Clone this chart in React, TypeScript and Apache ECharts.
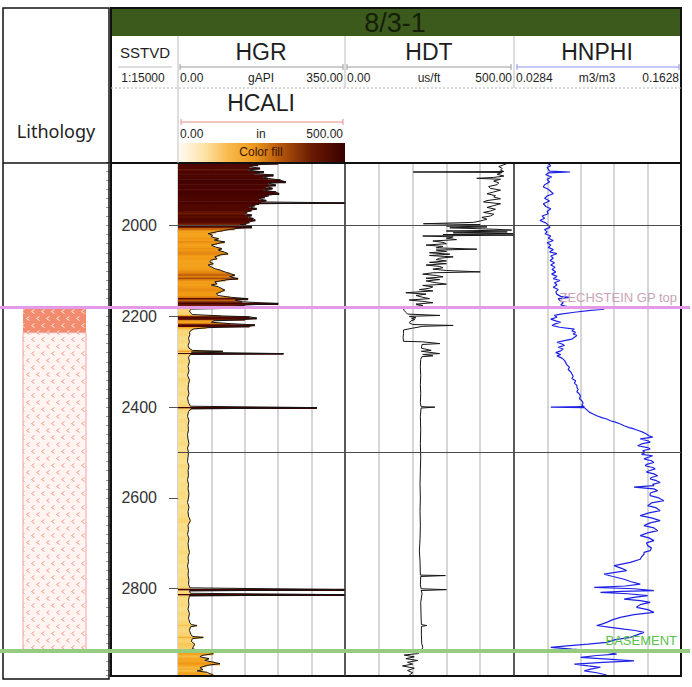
import React, { useEffect, useRef } from "react";
import * as echarts from "echarts";

// ---------- data ----------
const WELL_NAME = "8/3-1";
const DEPTH_RANGE: [number, number] = [1860, 2990];
const DEPTH_LABEL_STEP = 200;
const DEPTH_TICK_STEP = 20;
const GRID_DEPTHS = [2000, 2500];

const FORMATION_NAMES = ["ZECHSTEIN GP top", "BASEMENT"];
const FORMATION_DEPTHS = [2181, 2937];

const LITHO_TOPS = [2181, 2236];
const LITHO_BASES = [2236, 2937];
const LITHO_KINDS = ["dense", "light"];

const HGR_SCALE: [number, number] = [0, 350];
const HDT_SCALE: [number, number] = [0, 500];
const HNPHI_SCALE: [number, number] = [0.0284, 0.1628];
const HCALI_SCALE: [number, number] = [0, 500];

// [depth, gAPI]
const HGR: [number, number][] = [
  [1860, 185], [1863, 210], [1866, 168], [1870, 150], [1874, 172], [1878, 147], [1882, 180], [1885, 161],
  [1889, 200], [1893, 178], [1896, 189], [1900, 215], [1904, 226], [1907, 190], [1911, 205], [1914, 185],
  [1918, 198], [1922, 180], [1926, 205], [1930, 212], [1933, 190], [1937, 182], [1941, 170], [1945, 185],
  [1948, 175], [1950, 350], [1952, 170], [1955, 161], [1959, 150], [1963, 165], [1966, 154], [1970, 145],
  [1974, 140], [1977, 155], [1981, 147], [1985, 158], [1988, 162], [1992, 150], [1996, 143], [1999, 130],
  [2003, 155], [2007, 119], [2011, 95], [2014, 80], [2018, 63], [2021, 72], [2025, 70], [2029, 85],
  [2032, 76], [2036, 98], [2040, 82], [2043, 70], [2047, 78], [2051, 92], [2054, 84], [2058, 96],
  [2062, 105], [2065, 88], [2069, 77], [2073, 82], [2076, 70], [2080, 66], [2084, 74], [2087, 63],
  [2091, 70], [2095, 77], [2098, 88], [2102, 98], [2106, 110], [2109, 119], [2113, 108], [2117, 126],
  [2120, 100], [2124, 77], [2128, 82], [2131, 70], [2135, 85], [2139, 92], [2142, 98], [2146, 90],
  [2150, 80], [2154, 84], [2158, 110], [2161, 147], [2165, 120], [2168, 135], [2172, 210], [2175, 140],
  [2179, 110], [2181, 186], [2184, 28], [2188, 24], [2192, 26], [2196, 30], [2199, 90], [2201, 150],
  [2204, 165], [2207, 140], [2210, 75], [2213, 70], [2216, 110], [2219, 161], [2222, 150], [2225, 60],
  [2228, 32], [2232, 26], [2236, 24], [2240, 25], [2248, 22], [2256, 24], [2264, 21], [2270, 23],
  [2275, 30], [2277, 94], [2279, 28], [2282, 221], [2284, 26], [2290, 22], [2300, 24], [2310, 21],
  [2320, 23], [2330, 20], [2340, 24], [2350, 22], [2360, 21], [2370, 23], [2380, 20], [2390, 22],
  [2398, 26], [2401, 291], [2404, 27], [2410, 22], [2420, 20], [2430, 23], [2440, 21], [2450, 22],
  [2460, 20], [2470, 21], [2480, 23], [2490, 20], [2500, 22], [2510, 21], [2520, 20], [2530, 23],
  [2540, 21], [2550, 22], [2560, 20], [2570, 22], [2580, 21], [2590, 23], [2600, 22], [2610, 20],
  [2620, 23], [2630, 21], [2640, 22], [2650, 26], [2660, 21], [2670, 22], [2680, 20], [2690, 23],
  [2700, 21], [2710, 22], [2720, 24], [2730, 21], [2740, 22], [2750, 20], [2760, 22], [2770, 21],
  [2780, 23], [2790, 22], [2798, 25], [2802, 350], [2805, 24], [2810, 26], [2813, 350], [2816, 24],
  [2825, 22], [2835, 23], [2845, 21], [2855, 24], [2865, 22], [2875, 25], [2879, 28], [2881, 40],
  [2884, 26], [2892, 24], [2900, 27], [2905, 30], [2907, 53], [2910, 30], [2916, 28], [2922, 35],
  [2928, 32], [2932, 30], [2936, 45], [2940, 70], [2943, 74], [2947, 50], [2950, 46], [2954, 65],
  [2958, 56], [2962, 75], [2965, 88], [2969, 60], [2974, 46], [2978, 52], [2981, 40], [2984, 60],
  [2990, 74],
];

// [depth, us/ft]
const HDT: [number, number][] = [
  [1860, 490], [1866, 470], [1870, 455], [1874, 465], [1878, 460], [1881, 470], [1882, 202], [1883, 465],
  [1887, 450], [1891, 470], [1894, 440], [1896, 390], [1898, 460], [1902, 440], [1906, 455], [1910, 450],
  [1914, 425], [1918, 430], [1922, 460], [1926, 440], [1930, 420], [1934, 445], [1937, 440], [1941, 460],
  [1945, 420], [1948, 410], [1952, 460], [1956, 440], [1960, 420], [1964, 445], [1968, 430], [1971, 410],
  [1975, 440], [1979, 430], [1982, 405], [1986, 420], [1990, 400], [1993, 380], [1996, 232], [1998, 400],
  [2001, 300], [2003, 420], [2005, 310], [2008, 440], [2010, 493], [2012, 300], [2014, 480], [2016, 320],
  [2018, 497], [2020, 290], [2021, 500], [2023, 230], [2025, 320], [2028, 300], [2031, 330], [2034, 260],
  [2037, 290], [2040, 300], [2043, 240], [2046, 290], [2049, 270], [2052, 390], [2054, 270], [2057, 300],
  [2060, 250], [2063, 310], [2066, 250], [2069, 320], [2072, 280], [2075, 270], [2078, 300], [2081, 250],
  [2084, 300], [2087, 240], [2090, 280], [2093, 290], [2096, 260], [2099, 300], [2102, 400], [2104, 260],
  [2107, 230], [2110, 270], [2113, 290], [2116, 240], [2119, 280], [2122, 240], [2126, 270], [2129, 300],
  [2132, 230], [2135, 260], [2138, 250], [2141, 220], [2144, 260], [2148, 180], [2151, 240], [2154, 210],
  [2158, 230], [2161, 250], [2164, 190], [2167, 230], [2170, 260], [2173, 210], [2176, 230], [2179, 200],
  [2183, 173], [2187, 175], [2191, 180], [2195, 185], [2198, 281], [2200, 190], [2203, 210], [2205, 197],
  [2207, 207], [2210, 195], [2214, 190], [2218, 200], [2220, 320], [2222, 230], [2226, 200], [2230, 173],
  [2238, 173], [2246, 172], [2255, 173], [2256, 227], [2260, 281], [2262, 228], [2270, 226], [2275, 255],
  [2277, 226], [2282, 280], [2284, 230], [2287, 260], [2289, 227], [2295, 224], [2310, 223], [2330, 224],
  [2350, 223], [2370, 224], [2390, 223], [2399, 225], [2400, 266], [2402, 225], [2420, 223], [2450, 224],
  [2480, 223], [2510, 224], [2540, 223], [2570, 222], [2600, 223], [2630, 222], [2660, 223], [2690, 222],
  [2717, 220], [2740, 222], [2770, 223], [2771, 297], [2773, 224], [2790, 223], [2800, 225], [2802, 300],
  [2804, 225], [2810, 228], [2830, 224], [2860, 225], [2879, 226], [2881, 242], [2883, 226], [2900, 226],
  [2920, 227], [2930, 230], [2935, 226], [2940, 222], [2943, 215], [2946, 175], [2950, 205], [2954, 180],
  [2958, 215], [2962, 185], [2966, 200], [2970, 170], [2975, 205], [2980, 185], [2985, 200], [2990, 190],
];

// [depth, m3/m3]
const HNPHI: [number, number][] = [
  [1860, 0.0574], [1864, 0.056], [1868, 0.058], [1872, 0.055], [1880, 0.057], [1882, 0.0735], [1884, 0.056],
  [1888, 0.054], [1893, 0.0587], [1898, 0.055], [1904, 0.057], [1910, 0.053], [1915, 0.052], [1920, 0.056],
  [1925, 0.058], [1930, 0.060], [1935, 0.055], [1940, 0.053], [1946, 0.057], [1952, 0.052], [1958, 0.054],
  [1963, 0.058], [1969, 0.055], [1974, 0.056], [1979, 0.051], [1984, 0.053], [1989, 0.0493], [1994, 0.054],
  [1999, 0.056], [2004, 0.0574], [2009, 0.053], [2014, 0.055], [2018, 0.0534], [2023, 0.058], [2028, 0.056],
  [2033, 0.060], [2038, 0.055], [2043, 0.058], [2048, 0.056], [2053, 0.060], [2058, 0.057], [2062, 0.0628],
  [2067, 0.058], [2072, 0.060], [2077, 0.0574], [2082, 0.061], [2087, 0.058], [2092, 0.0614], [2097, 0.059],
  [2102, 0.062], [2107, 0.0587], [2112, 0.063], [2117, 0.060], [2121, 0.0654], [2126, 0.061], [2131, 0.063],
  [2136, 0.060], [2141, 0.064], [2146, 0.062], [2151, 0.0628], [2156, 0.066], [2158, 0.0735], [2161, 0.064],
  [2165, 0.0654], [2170, 0.068], [2175, 0.066], [2180, 0.074], [2184, 0.101], [2187, 0.090], [2191, 0.077],
  [2195, 0.066], [2198, 0.061], [2202, 0.063], [2206, 0.058], [2210, 0.062], [2213, 0.066], [2217, 0.061],
  [2220, 0.059], [2224, 0.065], [2228, 0.077], [2232, 0.075], [2235, 0.078], [2239, 0.076], [2242, 0.079],
  [2246, 0.077], [2250, 0.075], [2254, 0.068], [2257, 0.063], [2261, 0.067], [2264, 0.069], [2268, 0.064],
  [2272, 0.068], [2276, 0.066], [2280, 0.062], [2284, 0.066], [2287, 0.063], [2292, 0.067], [2297, 0.069],
  [2302, 0.070], [2307, 0.071], [2312, 0.073], [2317, 0.072], [2322, 0.074], [2327, 0.075], [2332, 0.076],
  [2337, 0.075], [2342, 0.078], [2347, 0.077], [2352, 0.079], [2356, 0.079], [2361, 0.080], [2366, 0.079],
  [2371, 0.081], [2376, 0.082], [2381, 0.081], [2386, 0.083], [2391, 0.084], [2396, 0.083], [2399, 0.085],
  [2400, 0.058], [2401, 0.085], [2406, 0.087], [2411, 0.089], [2415, 0.092], [2419, 0.095], [2423, 0.099],
  [2426, 0.103], [2430, 0.106], [2433, 0.110], [2437, 0.114], [2441, 0.117], [2445, 0.121], [2448, 0.125],
  [2452, 0.129], [2455, 0.132], [2459, 0.135], [2463, 0.137], [2466, 0.140], [2470, 0.130], [2474, 0.136],
  [2477, 0.138], [2481, 0.131], [2485, 0.128], [2489, 0.136], [2492, 0.138], [2496, 0.132], [2500, 0.134],
  [2504, 0.131], [2507, 0.140], [2511, 0.136], [2514, 0.133], [2518, 0.139], [2522, 0.141], [2526, 0.135],
  [2529, 0.134], [2533, 0.140], [2536, 0.142], [2540, 0.137], [2543, 0.135], [2547, 0.141], [2551, 0.144],
  [2555, 0.139], [2558, 0.138], [2562, 0.143], [2566, 0.146], [2570, 0.140], [2573, 0.141], [2576, 0.125],
  [2580, 0.141], [2584, 0.144], [2589, 0.138], [2595, 0.138], [2600, 0.145], [2606, 0.149], [2611, 0.139],
  [2617, 0.136], [2622, 0.143], [2628, 0.146], [2633, 0.137], [2639, 0.130], [2644, 0.139], [2650, 0.146],
  [2655, 0.138], [2661, 0.133], [2666, 0.141], [2672, 0.144], [2677, 0.136], [2683, 0.130], [2688, 0.137],
  [2694, 0.141], [2699, 0.135], [2705, 0.136], [2710, 0.139], [2716, 0.138], [2720, 0.133], [2724, 0.133],
  [2730, 0.131], [2735, 0.130], [2742, 0.122], [2749, 0.109], [2755, 0.115], [2760, 0.119], [2764, 0.110],
  [2768, 0.101], [2773, 0.108], [2779, 0.117], [2784, 0.122], [2790, 0.130], [2794, 0.118], [2797, 0.093],
  [2800, 0.125], [2804, 0.141], [2806, 0.115], [2808, 0.098], [2811, 0.120], [2815, 0.136], [2819, 0.125],
  [2823, 0.117], [2826, 0.130], [2830, 0.138], [2835, 0.130], [2841, 0.127], [2846, 0.136], [2852, 0.141],
  [2857, 0.125], [2863, 0.114], [2868, 0.108], [2874, 0.103], [2878, 0.099], [2881, 0.095], [2885, 0.106],
  [2889, 0.117], [2892, 0.126], [2896, 0.133], [2901, 0.128], [2907, 0.122], [2912, 0.110], [2918, 0.103],
  [2922, 0.088], [2926, 0.071], [2929, 0.058], [2933, 0.075], [2937, 0.095], [2940, 0.104], [2944, 0.111],
  [2947, 0.095], [2951, 0.082], [2955, 0.104], [2959, 0.125], [2962, 0.100], [2966, 0.077], [2970, 0.088],
  [2973, 0.098], [2977, 0.090], [2981, 0.085], [2985, 0.095], [2990, 0.103],
];

// ---------- styles ----------
const FONT = "'Liberation Sans', Arial, sans-serif";
const GR_FILL_STOPS: [number, string][] = [
  [0, "#fffbea"], [15, "#fde9a6"], [25, "#f9d677"], [40, "#f7c04c"], [55, "#f5a826"], [80, "#f39d16"],
  [105, "#e38612"], [120, "#c0600a"], [135, "#7a2404"], [150, "#520800"], [230, "#420000"],
];
const FORMATION_LINE_COLORS = ["#e59ae7", "#95cc80"];
const FORMATION_TEXT_COLORS = ["#c9a3b8", "#58c24a"];

function hexToRgb(h: string) {
  const n = parseInt(h.slice(1), 16);
  return [(n >> 16) & 255, (n >> 8) & 255, n & 255];
}
function grColor(v: number) {
  const s = GR_FILL_STOPS;
  if (v <= s[0][0]) return s[0][1];
  for (let i = 1; i < s.length; i++) {
    if (v <= s[i][0]) {
      const t = (v - s[i - 1][0]) / (s[i][0] - s[i - 1][0]);
      const a = hexToRgb(s[i - 1][1]);
      const b = hexToRgb(s[i][1]);
      const c = a.map((x, k) => Math.round(x + (b[k] - x) * t));
      return `rgb(${c[0]},${c[1]},${c[2]})`;
    }
  }
  return s[s.length - 1][1];
}

function makePattern(bg: string, fg: string) {
  const c = document.createElement("canvas");
  c.width = 10;
  c.height = 14;
  const ctx = c.getContext("2d")!;
  ctx.fillStyle = bg;
  ctx.fillRect(0, 0, 10, 14);
  ctx.strokeStyle = fg;
  ctx.lineWidth = 1;
  const chev = (x: number, y: number) => {
    ctx.beginPath();
    ctx.moveTo(x + 3, y);
    ctx.lineTo(x, y + 2);
    ctx.lineTo(x + 3, y + 4);
    ctx.stroke();
  };
  chev(1.5, 1.5);
  chev(6.5, 8.5);
  return { image: c, repeat: "repeat", imageWidth: 10, imageHeight: 14 };
}

export default function App() {
  const ref = useRef<HTMLDivElement>(null);
  useEffect(() => {
    document.body.style.margin = "0";
    if (!ref.current) return;
    const chart = echarts.init(ref.current, undefined, { renderer: "svg" });

    const gTop = 162;
    const gH = 513;
    const gridBase = { top: gTop, height: gH, outerBoundsMode: "none", containLabel: false };
    const depthY = (extra: any) => ({
      type: "value", inverse: true, min: DEPTH_RANGE[0], max: DEPTH_RANGE[1],
      splitLine: { show: false }, ...extra,
    });
    const gridX = (gridIndex: number) => ({
      gridIndex, type: "value", min: 0, max: 5, interval: 1, position: "top",
      axisLine: { show: false }, axisTick: { show: false }, axisLabel: { show: false },
      splitLine: { show: true, lineStyle: { color: "#c8c8c8", width: 1.5 } },
    });
    const gridLineSeries = (xi: number, yi: number) => ({
      type: "line", xAxisIndex: xi, yAxisIndex: yi, data: [], z: 1, silent: true,
      markLine: {
        silent: true, symbol: ["none", "none"], label: { show: false },
        lineStyle: { color: "#4a4a4a", width: 1, type: "solid" },
        data: GRID_DEPTHS.map((d) => ({ yAxis: d })),
      },
    });

    const patterns: any = {
      dense: makePattern("#f38b6e", "#ffe8e0"),
      light: makePattern("#fff4f1", "#f2a18f"),
    };

    const grFill = HGR.map((p, i) => {
      const prev = i > 0 ? HGR[i - 1][0] : p[0];
      const next = i < HGR.length - 1 ? HGR[i + 1][0] : p[0];
      return [p[1], (prev + p[0]) / 2, (p[0] + next) / 2];
    });

    const T = (text: string, x: number, y: number, size: number, o: any = {}) => ({
      type: "text", x, y, z: 20, silent: true,
      style: {
        text, fontSize: size, fontFamily: o.family || FONT, fill: o.fill || "#1e1e1e",
        textAlign: o.align || "center", textVerticalAlign: "middle",
      },
    });
    const L = (x1: number, y1: number, x2: number, y2: number, color: string, w: number, dash?: number[], z = 20) => ({
      type: "line", z, silent: true, shape: { x1, y1, x2, y2 },
      style: { stroke: color, lineWidth: w, lineDash: dash },
    });
    const R = (x: number, y: number, w: number, h: number, style: any, z = 20) => ({
      type: "rect", z, silent: true, shape: { x, y, width: w, height: h }, style,
    });
    const scale = (x1: number, x2: number, y: number, color: string) => [
      L(x1, y, x2, y, color, 1), L(x1, y - 3, x1, y + 3, color, 1), L(x2, y - 3, x2, y + 3, color, 1),
    ];
    const f2 = (v: number) => v.toFixed(2);

    const graphic: any[] = [
      R(3, 8, 106, 671, { fill: "none", stroke: "#111", lineWidth: 1.5 }, 5),
      L(3, 163, 109, 163, "#111", 1.5, undefined, 5),
      T("Lithology", 56, 131, 18, { family: "'Noto Sans', sans-serif", fill: "#222" }),
      R(111, 9, 570, 27, { fill: "#3b5a1c" }, 4),
      T(WELL_NAME, 395, 23, 27, { fill: "#142008" }),
      R(111, 8, 570, 668, { fill: "none", stroke: "#111", lineWidth: 2 }, 5),
      L(178, 36, 178, 163, "#bdbdbd", 1),
      L(345, 36, 345, 88, "#bdbdbd", 1),
      L(514, 36, 514, 88, "#bdbdbd", 1),
      L(111, 88, 681, 88, "#b4b4b4", 1, [2, 2]),
      L(111, 163, 681, 163, "#111", 2, undefined, 6),
      L(345, 163, 345, 676, "#333", 1.5, undefined, 5),
      L(514, 163, 514, 676, "#333", 1.5, undefined, 5),
      // SSTVD
      T("SSTVD", 145, 52, 15),
      L(118, 67, 172, 67, "#bbbbbb", 1),
      T("1:15000", 143, 78, 12),
      // HGR
      T("HGR", 261, 52, 23),
      ...scale(180, 343, 67, "#9a9a9a"),
      T(f2(HGR_SCALE[0]), 180, 78, 12, { align: "left" }),
      T("gAPI", 261, 78, 12),
      T(f2(HGR_SCALE[1]), 343, 78, 12, { align: "right" }),
      // HDT
      T("HDT", 429, 52, 23),
      ...scale(347, 511, 67, "#9a9a9a"),
      T(f2(HDT_SCALE[0]), 347, 78, 12, { align: "left" }),
      T("us/ft", 429, 78, 12),
      T(f2(HDT_SCALE[1]), 512, 78, 12, { align: "right" }),
      // HNPHI
      T("HNPHI", 597, 52, 23),
      ...scale(517, 679, 67, "#8c90f0"),
      T(String(HNPHI_SCALE[0]), 516, 78, 12, { align: "left" }),
      T("m3/m3", 597, 78, 12),
      T(String(HNPHI_SCALE[1]), 679, 78, 12, { align: "right" }),
      // HCALI
      T("HCALI", 261, 103, 23),
      ...scale(181, 343, 122, "#f08a8a"),
      T(f2(HCALI_SCALE[0]), 180, 134, 12, { align: "left" }),
      T("in", 261, 134, 12),
      T(f2(HCALI_SCALE[1]), 343, 134, 12, { align: "right" }),
      R(179, 143, 166, 19, {
        fill: {
          type: "linear", x: 0, y: 0, x2: 1, y2: 0,
          colorStops: [
            { offset: 0, color: "#fffaf0" }, { offset: 0.15, color: "#fde3a8" },
            { offset: 0.3, color: "#f8b84a" }, { offset: 0.45, color: "#ee9a1e" },
            { offset: 0.6, color: "#b85a0c" }, { offset: 0.8, color: "#6a1a02" },
            { offset: 1, color: "#3a0000" },
          ],
        },
      }),
      T("Color fill", 261, 152, 12, { fill: "#3a1400" }),
    ];

    const option: any = {
      animation: false,
      backgroundColor: "#ffffff",
      grid: [
        { ...gridBase, left: 111, width: 67 },
        { ...gridBase, left: 178, width: 167 },
        { ...gridBase, left: 345, width: 169 },
        { ...gridBase, left: 514, width: 167 },
        { ...gridBase, left: 23, width: 63 },
        { ...gridBase, left: 0, width: 690 },
      ],
      xAxis: [
        { gridIndex: 0, type: "value", min: 0, max: 1, show: false },
        { gridIndex: 1, type: "value", min: HGR_SCALE[0], max: HGR_SCALE[1], show: false },
        gridX(1),
        { gridIndex: 2, type: "value", min: HDT_SCALE[0], max: HDT_SCALE[1], show: false },
        gridX(2),
        { gridIndex: 3, type: "value", min: HNPHI_SCALE[0], max: HNPHI_SCALE[1], show: false },
        gridX(3),
        { gridIndex: 4, type: "value", min: 0, max: 1, show: false },
        { gridIndex: 5, type: "value", min: 0, max: 1, show: false },
      ],
      yAxis: [
        depthY({
          gridIndex: 0, position: "right", interval: DEPTH_TICK_STEP,
          axisLine: { show: false },
          axisTick: { show: true, inside: true, length: 5, lineStyle: { color: "#8a9ab8" } },
          axisLabel: {
            show: true, inside: true, margin: 21, fontSize: 16, color: "#333", fontFamily: FONT,
            formatter: (v: number) => (v % DEPTH_LABEL_STEP === 0 ? String(v) : ""),
          },
        }),
        depthY({
          gridIndex: 0, position: "right", offset: 0,
          axisLine: { show: false },
          axisTick: { show: true, inside: true, length: 9, lineStyle: { color: "#555" } },
          axisLabel: { show: false },
        }),
        depthY({ gridIndex: 1, show: false }),
        depthY({ gridIndex: 2, show: false }),
        depthY({ gridIndex: 3, show: false }),
        depthY({ gridIndex: 4, show: false }),
        depthY({ gridIndex: 5, show: false }),
      ],
      graphic,
      series: [
        gridLineSeries(1, 2),
        gridLineSeries(3, 3),
        gridLineSeries(5, 4),
        {
          type: "custom", name: "HGR fill", xAxisIndex: 1, yAxisIndex: 2, z: 2, clip: true, silent: true,
          data: grFill,
          encode: { x: 0, y: [1, 2] },
          renderItem: (_p: any, api: any) => {
            const v = api.value(0);
            const a = api.coord([HGR_SCALE[0], api.value(1)]);
            const b = api.coord([Math.min(v, HGR_SCALE[1]), api.value(2)]);
            return {
              type: "rect",
              shape: { x: a[0], y: a[1], width: Math.max(0, b[0] - a[0]), height: b[1] - a[1] + 0.6 },
              style: { fill: grColor(v) },
            };
          },
        },
        {
          type: "line", name: "HGR", xAxisIndex: 1, yAxisIndex: 2, z: 3, silent: true,
          showSymbol: false, clip: true,
          lineStyle: { color: "#161616", width: 1 },
          data: HGR.map((p) => [p[1], p[0]]),
        },
        {
          type: "line", name: "HDT", xAxisIndex: 3, yAxisIndex: 3, z: 3, silent: true,
          showSymbol: false, clip: true,
          lineStyle: { color: "#161616", width: 1 },
          data: HDT.map((p) => [p[1], p[0]]),
        },
        {
          type: "line", name: "HNPHI", xAxisIndex: 5, yAxisIndex: 4, z: 3, silent: true,
          showSymbol: false, clip: true,
          lineStyle: { color: "#1e22e6", width: 1.2 },
          data: HNPHI.map((p) => [p[1], p[0]]),
        },
        {
          type: "custom", name: "Lithology", xAxisIndex: 7, yAxisIndex: 5, z: 2, silent: true,
          data: LITHO_TOPS.map((t, i) => [t, LITHO_BASES[i], i]),
          encode: { y: [0, 1] },
          renderItem: (_p: any, api: any) => {
            const a = api.coord([0, api.value(0)]);
            const b = api.coord([1, api.value(1)]);
            const kind = LITHO_KINDS[api.value(2)];
            return {
              type: "rect",
              shape: { x: a[0], y: a[1], width: b[0] - a[0], height: b[1] - a[1] },
              style: {
                fill: patterns[kind],
                stroke: kind === "light" ? "#f2a4a0" : "none",
                lineWidth: 1,
              },
            };
          },
        },
        {
          type: "line", name: "Formations", xAxisIndex: 8, yAxisIndex: 6, data: [], z: 10, silent: true,
          markLine: {
            silent: true, symbol: ["none", "none"],
            data: FORMATION_DEPTHS.map((d, i) => ({
              yAxis: d,
              lineStyle: { color: FORMATION_LINE_COLORS[i], width: i === 0 ? 3 : 4, type: "solid" },
              label: {
                show: true, position: "insideEndTop", formatter: FORMATION_NAMES[i],
                color: FORMATION_TEXT_COLORS[i], fontSize: 13, fontFamily: FONT, distance: [13, 4],
              },
            })),
          },
        },
      ],
    };
    chart.setOption(option);
    return () => chart.dispose();
  }, []);
  return <div ref={ref} style={{ width: 692, height: 687 }} />;
}
